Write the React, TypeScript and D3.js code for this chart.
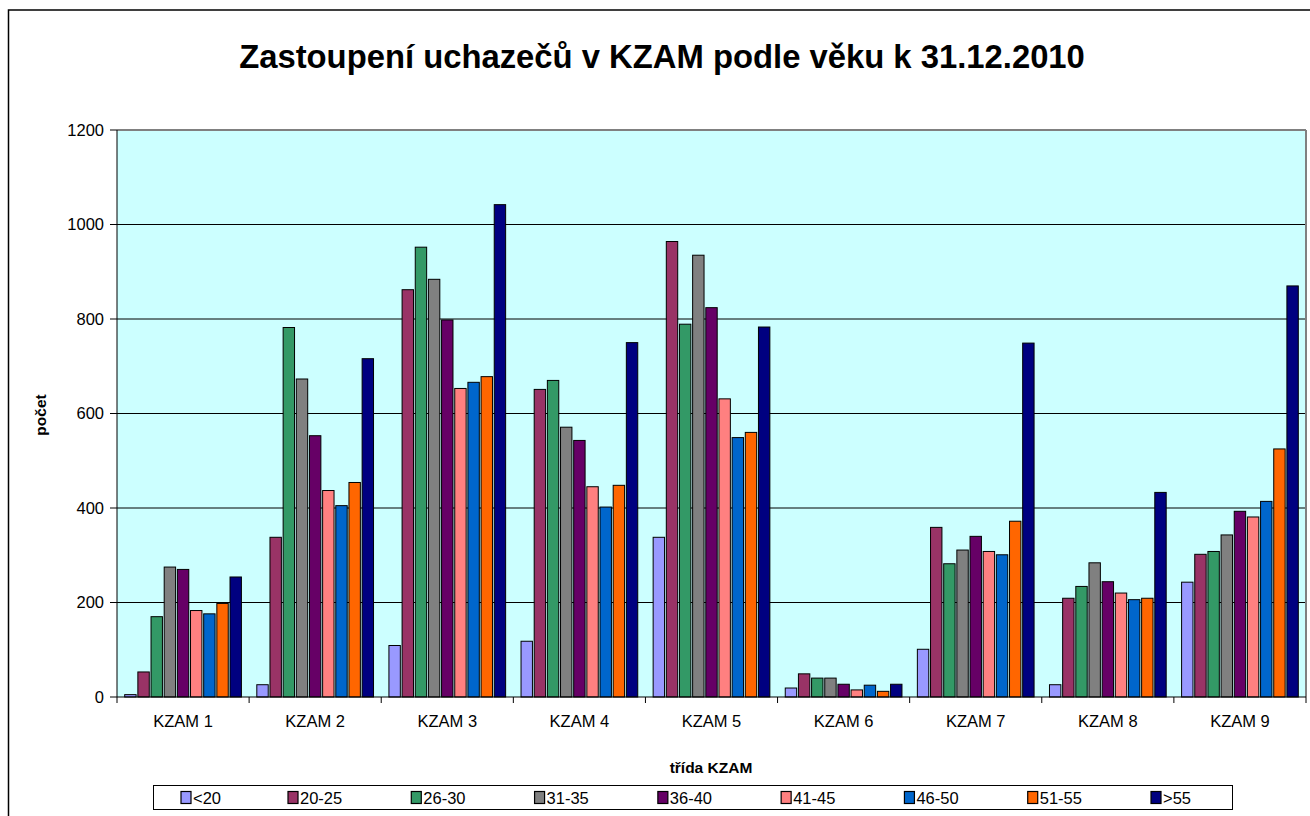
import * as d3 from 'd3'

const categories = ['KZAM 1', 'KZAM 2', 'KZAM 3', 'KZAM 4', 'KZAM 5', 'KZAM 6', 'KZAM 7', 'KZAM 8', 'KZAM 9']
const ageGroups = ['<20', '20-25', '26-30', '31-35', '36-40', '41-45', '46-50', '51-55', '>55']
const colors = ['#9999FF', '#993366', '#339966', '#808080', '#660066', '#FF8080', '#0066CC', '#FF6600', '#000080']

// one row per KZAM class, values in the age group order
const kzam1 = [5, 53, 170, 275, 270, 183, 176, 198, 254]
const kzam2 = [26, 338, 782, 673, 553, 437, 405, 454, 716]
const kzam3 = [109, 862, 952, 884, 798, 653, 666, 678, 1042]
const kzam4 = [118, 651, 670, 571, 543, 445, 402, 448, 750]
const kzam5 = [338, 964, 789, 935, 824, 631, 549, 560, 783]
const kzam6 = [19, 49, 40, 40, 27, 15, 25, 12, 27]
const kzam7 = [101, 359, 282, 311, 340, 308, 301, 372, 749]
const kzam8 = [26, 209, 234, 284, 244, 220, 206, 209, 433]
const kzam9 = [243, 302, 308, 343, 393, 381, 414, 525, 870]
const values = [kzam1, kzam2, kzam3, kzam4, kzam5, kzam6, kzam7, kzam8, kzam9]

const yTicks = [0, 200, 400, 600, 800, 1000, 1200]

const W = 1310
const H = 816
const plot = { left: 117, top: 130, right: 1306, bottom: 697 }
const font = 'Arial, "Liberation Sans", sans-serif'

export default function App() {
  const x0 = d3.scaleBand().domain(categories).range([plot.left, plot.right]).padding(0)
  const groupPad = 7.7
  const x1 = d3.scaleBand()
    .domain(ageGroups)
    .range([groupPad, x0.bandwidth() - groupPad])
    .paddingInner(0.134)
    .paddingOuter(0)
  const y = d3.scaleLinear().domain([0, 1200]).range([plot.bottom, plot.top])

  // legend entries: first one sits a bit closer, the rest are evenly spaced
  const legendStep = d3.scaleLinear().domain([1, 8]).range([288, 1151])
  const legendPos = (i: number) => (i === 0 ? 181 : legendStep(i))

  return (
    <div style={{ position: 'fixed', left: 0, top: 0 }}>
      <svg width={W} height={H} style={{ display: 'block', background: '#fff' }} fontFamily={font}>
        {/* outer chart frame */}
        <rect x={8.5} y={10} width={W + 20} height={H + 20} fill="#fff" stroke="#000" strokeWidth={1.5} />

        <text x={662} y={68} textAnchor="middle" fontSize={32.8} fontWeight="bold" fill="#000">
          Zastoupení uchazečů v KZAM podle věku k 31.12.2010
        </text>

        {/* plot area */}
        <rect x={plot.left} y={plot.top} width={plot.right - plot.left} height={plot.bottom - plot.top} fill="#CCFFFF" />

        {yTicks.filter(t => t > 0 && t < 1200).map(t => (
          <line key={t} x1={plot.left} x2={plot.right} y1={y(t)} y2={y(t)} stroke="#000" strokeWidth={1} />
        ))}

        <line x1={plot.left} x2={plot.right} y1={plot.top} y2={plot.top} stroke="#808080" strokeWidth={2} />
        <line x1={plot.right} x2={plot.right} y1={plot.top} y2={plot.bottom} stroke="#808080" strokeWidth={2} />

        {values.map((row, ci) => (
          <g key={categories[ci]} transform={`translate(${x0(categories[ci])},0)`}>
            {row.map((v, si) => (
              <rect
                key={ageGroups[si]}
                x={x1(ageGroups[si])}
                y={y(v)}
                width={x1.bandwidth()}
                height={plot.bottom - y(v)}
                fill={colors[si]}
                stroke="#000"
                strokeWidth={1}
              />
            ))}
          </g>
        ))}

        {/* y axis */}
        <line x1={plot.left} x2={plot.left} y1={plot.top} y2={plot.bottom} stroke="#000" strokeWidth={1} />
        {yTicks.map(t => (
          <g key={t}>
            <line x1={plot.left - 7} x2={plot.left} y1={y(t)} y2={y(t)} stroke="#000" />
            <text x={104} y={y(t)} dy="0.36em" textAnchor="end" fontSize={16.5} fill="#000">{t}</text>
          </g>
        ))}
        <text transform={`translate(46,415) rotate(-90)`} textAnchor="middle" fontSize={15.5} fontWeight="bold">počet</text>

        {/* x axis */}
        <line x1={plot.left} x2={plot.right} y1={plot.bottom} y2={plot.bottom} stroke="#000" strokeWidth={1} />
        {categories.map(c => (
          <g key={c}>
            <line x1={x0(c)} x2={x0(c)} y1={plot.bottom} y2={plot.bottom + 6} stroke="#000" />
            <text x={(x0(c) ?? 0) + x0.bandwidth() / 2} y={727} textAnchor="middle" fontSize={16.5}>{c}</text>
          </g>
        ))}
        <line x1={plot.right} x2={plot.right} y1={plot.bottom} y2={plot.bottom + 6} stroke="#000" />
        <text x={711} y={773} textAnchor="middle" fontSize={15.5} fontWeight="bold">třída KZAM</text>

        {/* legend */}
        <rect x={153.5} y={785.5} width={1079} height={24} fill="#fff" stroke="#000" strokeWidth={1} />
        {ageGroups.map((g, i) => {
          const lx = legendPos(i)
          return (
            <g key={g}>
              <rect x={lx} y={791.5} width={10} height={12} fill={colors[i]} stroke="#000" strokeWidth={1.2} />
              <text x={lx + 12} y={798} dy="0.36em" fontSize={16.5}>{g}</text>
            </g>
          )
        })}
      </svg>
    </div>
  )
}
